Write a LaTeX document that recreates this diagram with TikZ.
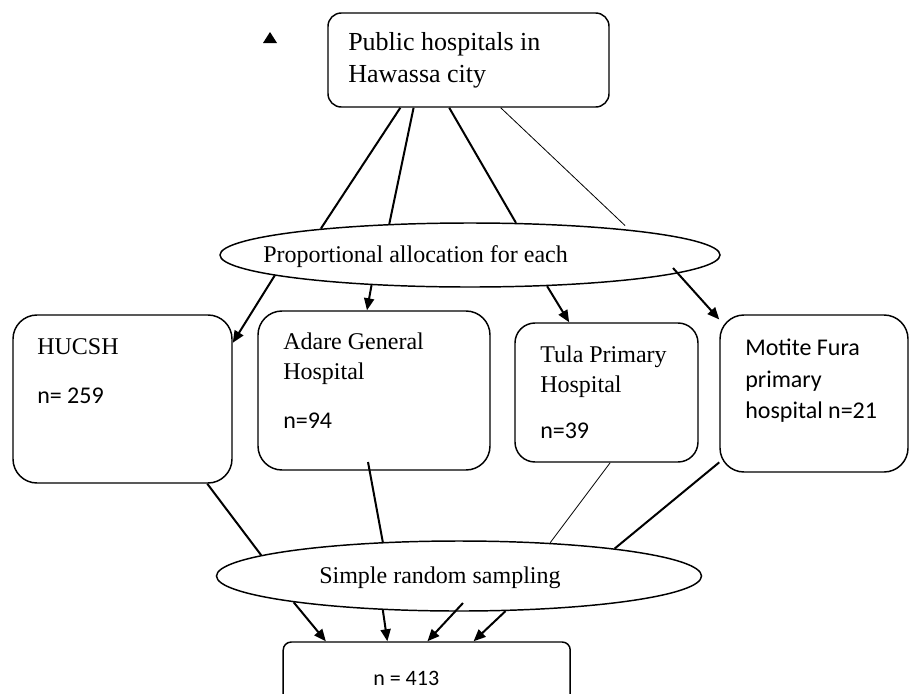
\documentclass[tikz,border=0pt]{standalone}
\usepackage{fontspec}
\setmainfont{Liberation Serif}
\newfontfamily\calibri{Carlito}
\usetikzlibrary{shapes.geometric, arrows.meta}

\begin{document}
\begin{tikzpicture}[x=0.75pt,y=0.75pt,yscale=-1,xscale=1,
  box/.style={draw, line width=1.1pt, rounded corners=18pt, inner sep=0pt},
  oval/.style={draw, ellipse, line width=1.1pt, inner sep=0pt},
  txt/.style={inner sep=0pt, align=left, font=\fontsize{18pt}{22.5pt}\selectfont},
  link/.style={line width=1.5pt},
  thinlink/.style={line width=0.6pt},
  arrow/.style={line width=1.5pt, -{Triangle[length=9pt,width=7.5pt]}}]
\useasboundingbox (0,0) rectangle (909,693);

%Shape: Rounded Rect
\node [box, rounded corners=10pt, minimum width=210.75pt, minimum height=70.5pt] (city) at (468.5,60) {};
%Shape: Ellipse
\node [oval, minimum width=375pt, minimum height=48pt] (prop) at (470,255) {};
%Shape: Rounded Rect
\node [box, minimum width=164.25pt, minimum height=126pt] (hucsh) at (122.5,399) {};
\node [box, minimum width=174pt, minimum height=119.25pt] (adare) at (374,390.5) {};
\node [box, rounded corners=15pt, minimum width=137.25pt, minimum height=104.25pt] (tula) at (606.5,392.5) {};
\node [box, minimum width=141pt, minimum height=117.75pt] (motite) at (814,393.5) {};
%Shape: Ellipse
\node [oval, minimum width=363.75pt, minimum height=52.5pt] (samp) at (459,576) {};
%Shape: Rounded Rect
\node [box, rounded corners=6pt, minimum width=215.25pt, minimum height=60pt] (total) at (426.7,682) {};

%Shape: Triangle
\fill (263,43) -- (277,43) -- (270,32) -- cycle;

% Text Node
\node [txt, font=\fontsize{19.5pt}{24pt}\selectfont, anchor=north west] (citytext) at (348,32) {Public hospitals in\\Hawassa city};
% Text Node
\node [txt, anchor=base west] (proptext) at (263,262) {Proportional allocation for each};
% Text Node
\node [txt, anchor=north west] (hucshtext) at (37,338) {HUCSH\\[14.25pt]{\calibri n= 259}};
% Text Node
\node [txt, anchor=north west] (adaretext) at (283,332.5) {Adare General\\Hospital\\[14.25pt]{\calibri n=94}};
% Text Node
\node [txt, anchor=north west] (tulatext) at (540,345.5) {Tula Primary\\Hospital\\[12pt]{\calibri n=39}};
% Text Node
\node [txt, font=\calibri\fontsize{18pt}{23.6pt}\selectfont, anchor=north west] (motitetext) at (745,339) {Motite Fura\\primary\\hospital n=21};
% Text Node
\node [txt, anchor=base west] (samptext) at (319,583.3) {Simple random sampling};
% Text Node
\node [txt, font=\calibri\fontsize{16.5pt}{20pt}\selectfont, anchor=base west] (totaltext) at (373,685) {n = 413};

%Free ends
\coordinate (a4) at (673,268);
\coordinate (l2) at (368,462);
\coordinate (b3) at (463,603);

%Straight Lines
\draw [link] (city.215.7) -- (prop.170.5);
\draw [link] (city.221.3) -- (prop.159.8);
\draw [link] (city.248.5) -- (prop.35.6);
\draw [thinlink, shorten >=4.5pt] (city.304.7) -- (prop.9.4);

\draw [arrow] (prop.186) -- (hucsh.27);
\draw [arrow] (prop.197) -- (adare.95);
\draw [arrow] (prop.338) -- (tula.118);
\draw [arrow] (a4) -- (motite.142);

\draw [link] (hucsh.-45) -- (samp.174.1);
\draw [link] (l2) -- (samp.156.5);
\draw [thinlink] (tula.273) -- (samp.20.6);
\draw [link] (motite.216) -- (samp.10.1);

\draw [arrow] (samp.189.5) -- (total.158.1);
\draw [arrow] (samp.204) -- (total.134.1);
\draw [arrow] (b3) -- (total.89.6);
\draw [arrow] (samp.323) -- (total.41.5);

\end{tikzpicture}
\end{document}
